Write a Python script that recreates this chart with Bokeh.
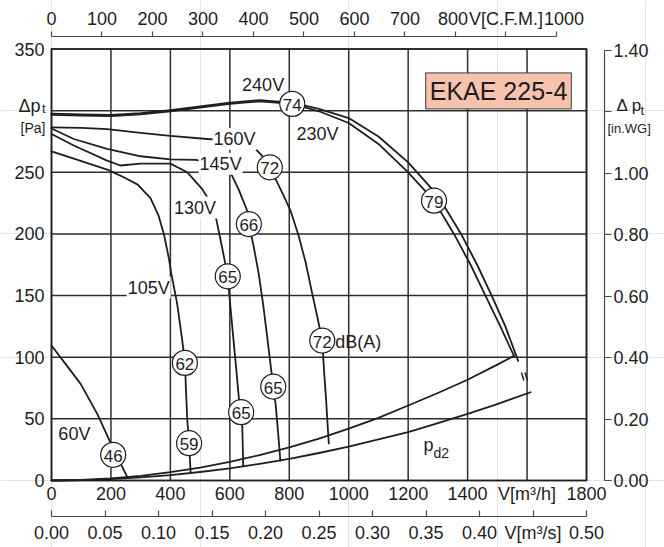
from bokeh.plotting import figure
from bokeh.models import (ColumnDataSource, FixedTicker, Label,
                          LinearAxis, NumeralTickFormatter, Range1d)
from bokeh.core.properties import value
from bokeh.embed import file_html
from bokeh.resources import INLINE

FONT = "Liberation Sans"
INK = "#1e1e1e"
GRID_INK = "#2e2e2e"
SCALE_INK = "#4a4a4a"
TICK_SIZE = "18px"

# unit conversions used by the secondary scales
M3H_PER_CFM = 1.699
PA_PER_INWG = 249.09
M3H_PER_M3S = 3600.0

Q_MAX = 1800   # airflow [m3/h]
P_MAX = 350    # total pressure [Pa]

# ---- fan curves: airflow q [m3/h] against total pressure p [Pa] ----
q_240 = [0, 100, 200, 300, 400, 500, 600, 700, 810, 900, 1000, 1100, 1200,
         1300, 1378, 1432, 1481, 1527, 1570]
p_240 = [297.5, 297, 296.5, 298, 300.5, 303.5, 306.5, 308.5, 306.5, 301.5, 294,
         279, 258, 231, 200, 175, 150, 125, 97]

q_230 = [0, 100, 200, 300, 400, 500, 600, 700, 810, 900, 1000, 1100, 1200,
         1287, 1354, 1410, 1460, 1510, 1556]
p_230 = [296.5, 296, 295.5, 297, 299.5, 302.5, 305.5, 307.5, 305.5, 299.5, 290,
         273, 250, 227, 200, 175, 150, 125, 101]

q_160 = [0, 100, 187, 300, 400, 524, 616, 686, 714, 734, 757, 781, 804, 831,
         855, 875, 895, 911, 917, 924, 929, 933]
p_160 = [286.5, 286, 285, 282, 279.5, 277, 275.5, 269, 262, 254, 243, 231, 219,
         199, 177, 154, 132, 113.5, 89, 65, 45, 30]

q_145 = [0, 75, 187, 300, 400, 484, 569, 602, 630, 658, 664, 680, 697, 712,
         726, 746, 754, 762, 770]
p_145 = [285.5, 277, 269, 263, 260.5, 260, 257, 250, 236, 219, 208, 190, 168,
         143, 116, 76, 62, 40, 16]

q_130 = [0, 75, 187, 232, 300, 400, 457, 505, 546, 574, 593, 597, 610, 621,
         630, 638, 642, 645]
p_130 = [281, 271.7, 259.5, 255.5, 257, 257, 250, 237, 221.7, 189, 165.6, 154,
         120, 92, 67.6, 55.4, 43, 12]

q_105 = [0, 75, 190, 243, 290, 333, 360, 378, 395, 403, 423, 440, 449, 453,
         457, 463, 468]
p_105 = [267, 261, 252, 246, 240, 229, 215, 200, 180, 168, 143, 113.5, 95.4,
         70, 48.7, 30.3, 6.8]

q_60 = [0, 47, 98, 154, 198, 255]
p_60 = [109.5, 94.6, 78.4, 54, 31, 2.7]

# upper parabola from the origin to the end of the 230 V curve
q_sys = [0, 100, 200, 300, 400, 500, 600, 700, 800, 900, 1000, 1100, 1200,
         1300, 1400, 1500, 1556]
p_sys = [0, 0.4, 1.7, 3.8, 6.8, 10.5, 15.2, 20.6, 26.8, 34, 42, 50.8, 60.8,
         71, 81.7, 94, 101]

# dynamic pressure p_d2
q_pd2 = [0, 100, 200, 300, 400, 500, 600, 700, 800, 900, 1000, 1100, 1200,
         1300, 1400, 1500, 1612]
p_pd2 = [0, 0.3, 1.1, 2.5, 4.4, 6.9, 9.9, 13.5, 17.6, 22.3, 27.5, 33.3, 39.2,
         46.5, 54, 62, 71.6]

# ---- sound power levels dB(A) on the curves ----
db_val = [74, 79, 72, 72, 66, 65, 65, 65, 62, 59, 46]
db_q = [810, 1287, 734.5, 911, 664, 593, 746, 638, 448.7, 463, 207.5]
db_p = [305.5, 227, 254, 113.5, 208, 165.6, 76.2, 55.4, 95.4, 30.3, 20.8]

# ---- voltage labels ----
volt_text = ["240V", "230V", "160V", "145V", "130V", "105V", "60V"]
volt_q = [712, 895, 616, 569, 483, 327, 77]
volt_p = [321, 281, 277, 257, 221.4, 156.5, 38]

# ---- scales ----
q_ticks = [0, 200, 400, 600, 800, 1000, 1200, 1400, 1600, 1800]
p_ticks = [0, 50, 100, 150, 200, 250, 300, 350]
cfm_ticks = [0, 100, 200, 300, 400, 500, 600, 700, 800, 900, 1000]
m3s_ticks = [0.0, 0.05, 0.1, 0.15, 0.2, 0.25, 0.3, 0.35, 0.4, 0.45, 0.5]
inwg_ticks = [0.0, 0.2, 0.4, 0.6, 0.8, 1.0, 1.2, 1.4]

# ---- page geometry (pixels): the data box inside a full-page frame ----
W, H = 664, 547
BOX_LEFT, BOX_RIGHT, BOX_TOP, BOX_BOTTOM = 51, 586, 48.5, 480
CFM_LINE_Y = 36      # top scale line
M3S_LINE_Y = 515.7   # bottom scale line
WG_LINE_X = 604      # right scale line

q_per_px = Q_MAX / (BOX_RIGHT - BOX_LEFT)
p_per_px = P_MAX / (BOX_BOTTOM - BOX_TOP)
x_lo, x_hi = -BOX_LEFT * q_per_px, Q_MAX + (W - BOX_RIGHT) * q_per_px
y_lo, y_hi = -(H - BOX_BOTTOM) * p_per_px, P_MAX + BOX_TOP * p_per_px

p = figure(width=W, height=H,
           x_range=Range1d(x_lo, x_hi), y_range=Range1d(y_lo, y_hi),
           x_axis_location=None, y_axis_location=None,
           toolbar_location=None, output_backend="svg",
           min_border=0, min_border_left=0, min_border_right=0,
           min_border_top=0, min_border_bottom=0,
           background_fill_color="white", border_fill_color="white",
           outline_line_color=None)

p.extra_x_ranges = {"cfm": Range1d(x_lo / M3H_PER_CFM, x_hi / M3H_PER_CFM),
                    "m3s": Range1d(x_lo / M3H_PER_M3S, x_hi / M3H_PER_M3S)}
p.extra_y_ranges = {"inwg": Range1d(y_lo / PA_PER_INWG, y_hi / PA_PER_INWG)}

# grid lines at every tick of the two main scales
for q in q_ticks:
    p.line([q, q], [0, P_MAX], line_color=GRID_INK, line_width=1.5)
for pt in p_ticks:
    p.line([0, Q_MAX], [pt, pt], line_color=GRID_INK, line_width=1.5)

# box around the data area
p.line([0, Q_MAX, Q_MAX, 0, 0], [0, 0, P_MAX, P_MAX, 0],
       line_color=INK, line_width=1.6, line_join="miter")


def style_axis(ax, line=True, tick_out=0, tick_in=0, standoff=4):
    ax.major_label_text_font = FONT
    ax.major_label_text_font_size = TICK_SIZE
    ax.major_label_text_color = INK
    ax.minor_tick_line_color = None
    ax.major_tick_out = tick_out
    ax.major_tick_in = tick_in
    ax.major_label_standoff = standoff
    if line:
        ax.axis_line_color = SCALE_INK
        ax.axis_line_width = 1.2
        ax.major_tick_line_color = SCALE_INK
        ax.major_tick_line_width = 1.2
    else:
        ax.axis_line_color = None
        ax.major_tick_line_color = None
    return ax


# left: pressure in Pa
ax_pa = style_axis(LinearAxis(ticker=FixedTicker(ticks=p_ticks), fixed_location=0,
                              major_label_overrides={300: ""}),
                   line=False, standoff=7)
p.add_layout(ax_pa, "left")

# bottom: airflow in m3/h
ax_q = style_axis(LinearAxis(ticker=FixedTicker(ticks=q_ticks), fixed_location=0,
                             major_label_overrides={1600: "V[m³/h]"}),
                  line=False, standoff=3)
p.add_layout(ax_q, "below")

# bottom: airflow in m3/s
ax_m3s = style_axis(LinearAxis(x_range_name="m3s", ticker=FixedTicker(ticks=m3s_ticks),
                               fixed_location=-(M3S_LINE_Y - BOX_BOTTOM) * p_per_px,
                               formatter=NumeralTickFormatter(format="0.00"),
                               major_label_overrides={0.45: "V[m³/s]"},
                               bounds=(0, 0.5)),
                    tick_in=6, standoff=7)
p.add_layout(ax_m3s, "below")

# top: airflow in C.F.M.
ax_cfm = style_axis(LinearAxis(x_range_name="cfm", ticker=FixedTicker(ticks=cfm_ticks),
                               fixed_location=P_MAX + (BOX_TOP - CFM_LINE_Y) * p_per_px,
                               major_label_overrides={800: "800\u00a0",
                                                      900: "V[C.F.M.]",
                                                      1000: "\u00a0\u00a0\u00a01000"},
                               bounds=(0, 1000)),
                    tick_out=5, standoff=3)
p.add_layout(ax_cfm, "above")

# right: pressure in inches water gauge
ax_wg = style_axis(LinearAxis(y_range_name="inwg", ticker=FixedTicker(ticks=inwg_ticks),
                              fixed_location=Q_MAX + (WG_LINE_X - BOX_RIGHT) * q_per_px,
                              formatter=NumeralTickFormatter(format="0.00"),
                              major_label_overrides={1.2: ""},
                              bounds=(0, 1.4)),
                   tick_out=7, standoff=2)
p.add_layout(ax_wg, "right")

# ---- curves ----
curve_xs = [q_240, q_230, q_160, q_145, q_130, q_105, q_60, q_sys, q_pd2]
curve_ys = [p_240, p_230, p_160, p_145, p_130, p_105, p_60, p_sys, p_pd2]
p.multi_line(curve_xs, curve_ys, line_color=INK, line_width=1.8,
             line_join="round", line_cap="round")

# break marks between the curve ends and the p_d2 end
mid_q = (q_240[-1] + q_pd2[-1]) / 2
mid_p = (p_240[-1] + p_pd2[-1]) / 2
brk_x0 = [mid_q - 3.0 * q_per_px, mid_q + 0.5 * q_per_px]
brk_x1 = [mid_q - 0.5 * q_per_px, mid_q + 3.0 * q_per_px]
brk_y0 = [mid_p + 4 * p_per_px, mid_p + 4 * p_per_px]
brk_y1 = [mid_p - 4 * p_per_px, mid_p - 4 * p_per_px]
p.segment(brk_x0, brk_y0, brk_x1, brk_y1, line_color=INK, line_width=1.4)

# ---- voltage labels (white ground hides the lines behind them) ----
volt_src = ColumnDataSource(dict(q=volt_q, p=volt_p, label=volt_text))
p.text("q", "p", text="label", source=volt_src, text_align="center",
       text_baseline="middle", text_font=value(FONT), text_font_size="18px",
       text_color=INK, background_fill_color="white", padding=1)

# ---- dB(A) circles ----
db_src = ColumnDataSource(dict(q=db_q, p=db_p, label=[str(v) for v in db_val]))
p.scatter("q", "p", source=db_src, size=25, marker="circle",
          fill_color="white", line_color=INK, line_width=1.2)
p.text("q", "p", text="label", source=db_src, text_align="center",
       text_baseline="middle", text_font=value(FONT), text_font_size="17px",
       text_color=INK, y_offset=1)
p.text(x=[db_q[3]], y=[db_p[3]], text=["dB(A)"], x_offset=13, y_offset=1,
       text_align="left", text_baseline="middle", text_font=value(FONT),
       text_font_size="18px", text_color=INK)

# p_d2 label
p.add_layout(Label(x=1252, y=29.2, text="p", text_font=FONT, text_font_size="18px",
                   text_color=INK, text_baseline="alphabetic", text_align="left"))
p.add_layout(Label(x=1285, y=22.1, text="d2", text_font=FONT, text_font_size="14px",
                   text_color=INK, text_baseline="alphabetic", text_align="left"))

# model name plate
p.add_layout(Label(x=1504, y=316, text="EKAE 225-4", text_font=FONT,
                   text_font_size="25px", text_color=INK, text_align="center",
                   text_baseline="middle", background_fill_color="#f7c2ae",
                   border_line_color="#3a3a3a", border_line_width=1, padding=4))

# pressure captions beside the left and right scales
p.add_layout(Label(x=0, y=300, x_offset=-11, y_offset=5, text="Δp", text_font=FONT,
                   text_font_size="18px", text_color=INK, text_align="right",
                   text_baseline="alphabetic"))
p.add_layout(Label(x=0, y=300, x_offset=-6, y_offset=2, text="t", text_font=FONT,
                   text_font_size="13px", text_color=INK, text_align="right",
                   text_baseline="alphabetic"))
p.add_layout(Label(x=0, y=300, x_offset=-6, y_offset=-17, text="[Pa]", text_font=FONT,
                   text_font_size="14px", text_color=INK, text_align="right",
                   text_baseline="alphabetic"))
p.add_layout(Label(x=Q_MAX, y=300, x_offset=30, y_offset=5, text="Δ p", text_font=FONT,
                   text_font_size="17px", text_color=INK, text_align="left",
                   text_baseline="alphabetic"))
p.add_layout(Label(x=Q_MAX, y=300, x_offset=54, y_offset=0, text="t", text_font=FONT,
                   text_font_size="13px", text_color=INK, text_align="left",
                   text_baseline="alphabetic"))
p.add_layout(Label(x=Q_MAX, y=300, x_offset=21, y_offset=-18, text="[in.WG]",
                   text_font=FONT, text_font_size="13px", text_color=INK,
                   text_align="left", text_baseline="alphabetic"))

open("out.html", "w").write(file_html(p, INLINE))
